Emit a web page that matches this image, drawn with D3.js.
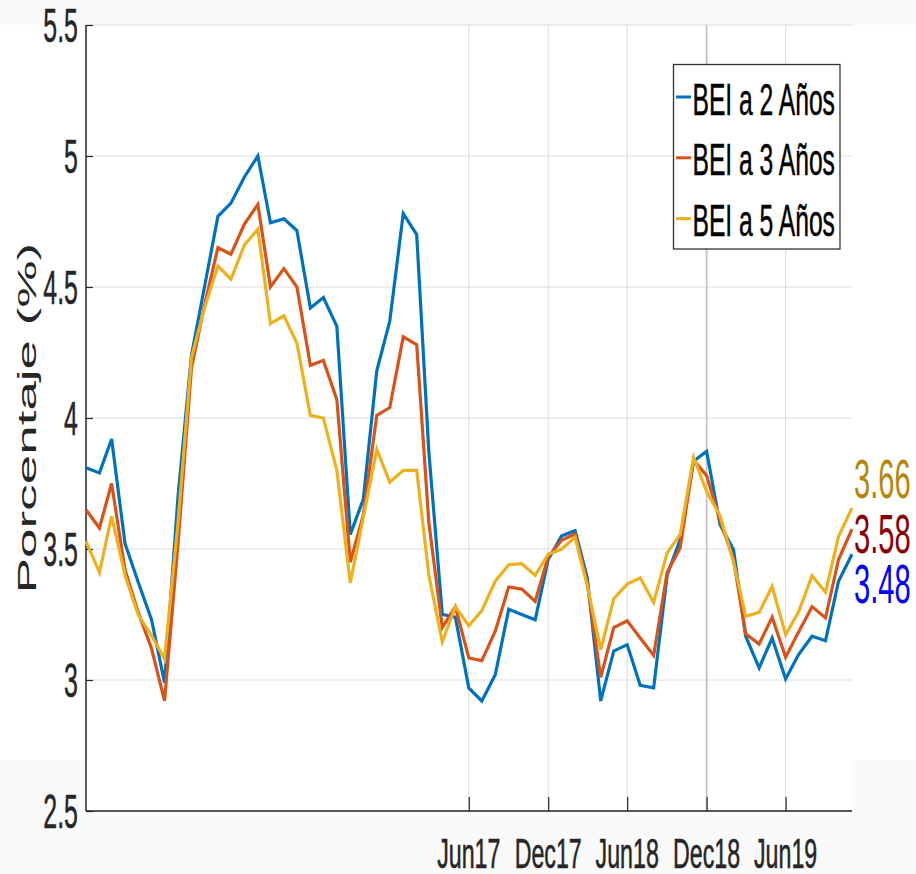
<!DOCTYPE html>
<html>
<head>
<meta charset="utf-8">
<script src="https://cdn.jsdelivr.net/npm/d3@7"></script>
<style>
  html, body { margin: 0; padding: 0; background: #fafafa; }
  svg { display: block; }
  text { font-family: "Liberation Sans", Arial, sans-serif; fill: #262626; }
</style>
</head>
<body>
<svg id="chart" width="916" height="874"></svg>
<script>
// ---- data ----
const startMonth = new Date(2015, 0, 1);
const endMonth = new Date(2019, 10, 1);
const seriesNames = ["BEI a 2 Años", "BEI a 3 Años", "BEI a 5 Años"];
const bei2 = [3.81,3.79,3.92,3.52,3.375,3.23,2.99,3.70,4.24,4.50,4.77,4.82,4.92,5.00,4.745,4.76,4.715,4.42,4.46,4.35,3.556,3.69,4.18,4.37,4.78,4.70,3.87,3.25,3.24,2.97,2.92,3.02,3.27,3.25,3.23,3.46,3.55,3.57,3.39,2.92,3.11,3.135,2.98,2.97,3.40,3.535,3.835,3.873,3.593,3.497,3.167,3.046,3.16,3.004,3.097,3.167,3.15,3.377,3.48];
const bei3 = [3.65,3.58,3.75,3.42,3.26,3.12,2.92,3.52,4.19,4.43,4.65,4.625,4.74,4.815,4.50,4.57,4.50,4.20,4.22,4.07,3.45,3.63,4.01,4.04,4.31,4.28,3.60,3.20,3.28,3.084,3.074,3.186,3.355,3.347,3.30,3.47,3.533,3.557,3.37,3.01,3.20,3.226,3.16,3.094,3.41,3.504,3.84,3.78,3.61,3.46,3.176,3.137,3.24,3.087,3.183,3.28,3.237,3.46,3.576];
const bei5 = [3.53,3.41,3.625,3.40,3.25,3.17,3.08,3.60,4.23,4.42,4.58,4.53,4.66,4.72,4.36,4.39,4.285,4.01,4.00,3.80,3.37,3.62,3.88,3.755,3.80,3.80,3.40,3.145,3.28,3.207,3.265,3.377,3.44,3.444,3.40,3.48,3.50,3.545,3.36,3.116,3.31,3.366,3.39,3.296,3.485,3.555,3.85,3.72,3.627,3.45,3.243,3.258,3.357,3.173,3.26,3.398,3.335,3.548,3.656];
const lastLabels = ["3.48", "3.58", "3.66"];
const yTicks = [2.5, 3, 3.5, 4, 4.5, 5, 5.5];
const yTickLabels = ["2.5", "3", "3.5", "4", "4.5", "5", "5.5"];
const xTickDates = [new Date(2017,5,1), new Date(2017,11,1), new Date(2018,5,1), new Date(2018,11,1), new Date(2019,5,1)];
const xTickLabels = ["Jun17", "Dec17", "Jun18", "Dec18", "Jun19"];

// ---- styles ----
const colors = ["#0072BD", "#D95319", "#EDB120"];
const labelColors = ["#0000FF", "#8B0000", "#B8860B"];
const labelDy = [49, 24, -10];

const months = d3.timeMonth.range(startMonth, d3.timeMonth.offset(endMonth, 1));
const allSeries = [bei2, bei3, bei5];

const W = 916, H = 874;
const L = 86, R = 852, T = 25, B = 811;

const svg = d3.select("#chart");
svg.append("rect").attr("width", W).attr("height", H).attr("fill", "#fafafa");
svg.append("rect").attr("x", 0).attr("y", T).attr("width", W).attr("height", 735).attr("fill", "#ffffff");
svg.append("rect").attr("x", L).attr("y", T).attr("width", R - L).attr("height", B - T).attr("fill", "#ffffff");

const x = d3.scaleTime().domain([startMonth, endMonth]).range([L, R]);
const y = d3.scaleLinear().domain([2.5, 5.5]).range([B, T]);

// grid
const grid = svg.append("g");
grid.selectAll("line.hy").data(yTicks).enter().append("line")
  .attr("x1", L).attr("x2", R).attr("y1", d => y(d)).attr("y2", d => y(d))
  .attr("stroke", "#dcdcdc").attr("stroke-width", 1);
grid.selectAll("line.vx").data(xTickDates).enter().append("line")
  .attr("y1", T).attr("y2", B).attr("x1", d => x(d)).attr("x2", d => x(d))
  .attr("stroke", (d, i) => i === 3 ? "#c4c4c4" : "#dcdcdc")
  .attr("stroke-width", (d, i) => i === 3 ? 1.8 : 1);

// axes (inward ticks)
const yAxis = d3.axisLeft(y).tickValues(yTicks).tickSize(-7).tickFormat("");
const gy = svg.append("g").attr("transform", `translate(${L},0)`).call(yAxis);
const xAxis = d3.axisBottom(x).tickValues(xTickDates).tickSize(-14).tickFormat("");
const gx = svg.append("g").attr("transform", `translate(0,${B})`).call(xAxis);
[gy, gx].forEach(g => {
  g.selectAll("path.domain").attr("stroke", "#262626").attr("stroke-width", 1.5);
  g.selectAll(".tick line").attr("stroke", "#262626").attr("stroke-width", 1.2);
});
gy.select("path.domain").attr("d", `M0,${T}V${B}`);
gx.select("path.domain").attr("d", `M${L},0H${R}`);

// tick labels
svg.append("g").selectAll("text").data(yTicks).enter().append("text")
  .attr("transform", d => `translate(78,${y(d) + 17}) scale(0.52,1)`)
  .attr("text-anchor", "end").attr("font-size", 48)
  .style("stroke", "#262626").style("stroke-width", 0.5)
  .text((d, i) => yTickLabels[i]);
svg.append("g").selectAll("text").data(xTickDates).enter().append("text")
  .attr("transform", d => `translate(${x(d)},868) scale(0.54,1)`)
  .attr("text-anchor", "middle").attr("font-size", 43)
  .style("stroke", "#262626").style("stroke-width", 0.6)
  .text((d, i) => xTickLabels[i]);

// y label
svg.append("text")
  .attr("transform", "translate(36,418) rotate(-90) scale(2.0,1)")
  .attr("text-anchor", "middle").attr("font-size", 26.5)
  .text("Porcentaje (%)");

// lines
const line = d3.line().x((d, i) => x(months[i])).y(d => y(d));
allSeries.forEach((s, k) => {
  svg.append("path").datum(s).attr("d", line)
    .attr("fill", "none").attr("stroke", colors[k]).attr("stroke-width", 3.2)
    .attr("stroke-linejoin", "miter").attr("stroke-miterlimit", 4);
});

// end labels
allSeries.forEach((s, k) => {
  svg.append("text")
    .attr("transform", `translate(854,${y(s[s.length - 1]) + labelDy[k]}) scale(0.52,1)`)
    .attr("font-size", 56).style("fill", labelColors[k])
    .text(lastLabels[k]);
});

// legend
const lg = svg.append("g");
lg.append("rect").attr("x", 673.5).attr("y", 64.5).attr("width", 166.5).attr("height", 184.5)
  .attr("fill", "#ffffff").attr("stroke", "#333333").attr("stroke-width", 1.3);
seriesNames.forEach((n, k) => {
  const by = 114.5 + k * 60.8;
  lg.append("line").attr("x1", 676).attr("x2", 691).attr("y1", by - 17.5).attr("y2", by - 17.5)
    .attr("stroke", colors[k]).attr("stroke-width", 3);
  lg.append("text").attr("transform", `translate(692.5,${by}) scale(0.56,1)`)
    .attr("font-size", 44).style("fill", "#000").style("stroke", "#000").style("stroke-width", 0.5)
    .text(n);
});
</script>
</body>
</html>
